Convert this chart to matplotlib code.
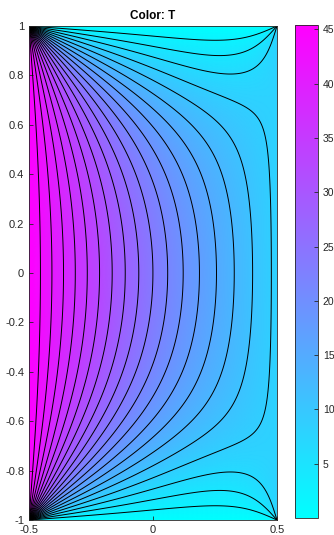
import numpy as np
import matplotlib
matplotlib.use("Agg")
import matplotlib.pyplot as plt

plt.rcParams['font.family'] = ['Liberation Sans', 'DejaVu Sans']

# Boundary temperatures
T_left = 45.4
T_right = 8.0
T_top = 0.0
T_bottom = 0.0
x_range = [-0.5, 0.5]
y_range = [-1.0, 1.0]
c_range = [0.0, 45.4]
n_levels = 20
yticks = [-1, -0.8, -0.6, -0.4, -0.2, 0, 0.2, 0.4, 0.6, 0.8, 1]
ytick_labels = ['-1', '-0.8', '-0.6', '-0.4', '-0.2', '0', '0.2', '0.4', '0.6', '0.8', '1']
xticks = [-0.5, 0, 0.5]
xtick_labels = ['-0.5', '0', '0.5']
cticks = [5, 10, 15, 20, 25, 30, 35, 40, 45]
title = 'Color: T'

# Steady heat (Laplace) solution on the rectangle via separation of variables
W = x_range[1] - x_range[0]
H = y_range[1] - y_range[0]
nx, ny = 300, 600
xs = np.linspace(x_range[0], x_range[1], nx)
ys = np.linspace(y_range[0], y_range[1], ny)
X, Y = np.meshgrid(xs, ys)
u = (X - x_range[0]) / W  # 0..1
v = (Y - y_range[0])      # 0..H
T = np.zeros_like(X)
for n in range(1, 800, 2):
    a = n * np.pi / H
    def sh_ratio(d):
        # sinh(a*d)/sinh(a*W) computed stably
        return np.exp(-a * (W - d)) * (1 - np.exp(-2 * a * d)) / (1 - np.exp(-2 * a * W))
    dx = u * W
    term = T_left * sh_ratio(W - dx) + T_right * sh_ratio(dx)
    T += 4.0 / (n * np.pi) * np.sin(a * v) * term
T[:, 0] = T_left
T[:, -1] = T_right
T[0, :] = T_bottom
T[-1, :] = T_top

fig = plt.figure(figsize=(3.34, 5.35), dpi=100)
ax = fig.add_axes([0.0868, 0.028, 0.7425, 0.9234])
mesh = ax.pcolormesh(X, Y, T, cmap='cool', vmin=c_range[0], vmax=c_range[1],
                     shading='gouraud', rasterized=True)
levels = np.linspace(c_range[0], c_range[1], n_levels + 2)[1:-1]
ax.contour(X, Y, T, levels=levels, colors='black', linewidths=0.7)
ax.set_xlim(x_range)
ax.set_ylim(y_range)
ax.set_xticks(xticks)
ax.set_xticklabels(xtick_labels)
ax.set_yticks(yticks)
ax.set_yticklabels(ytick_labels)
ax.tick_params(direction='in', labelsize=8, length=3, width=0.6,
               colors='#262626')
for s in ax.spines.values():
    s.set_color('#262626')
    s.set_linewidth(0.6)
ax.set_title(title, fontsize=8.5, fontweight='bold', pad=5)

cax = fig.add_axes([0.883, 0.0318, 0.069, 0.9215])
cb = fig.colorbar(mesh, cax=cax, ticks=cticks)
cb.ax.tick_params(direction='in', labelsize=7.5, length=3, width=0.6, colors='#262626')
cb.outline.set_edgecolor('#262626')
cb.outline.set_linewidth(0.6)

fig.savefig('out.png', dpi=100)
